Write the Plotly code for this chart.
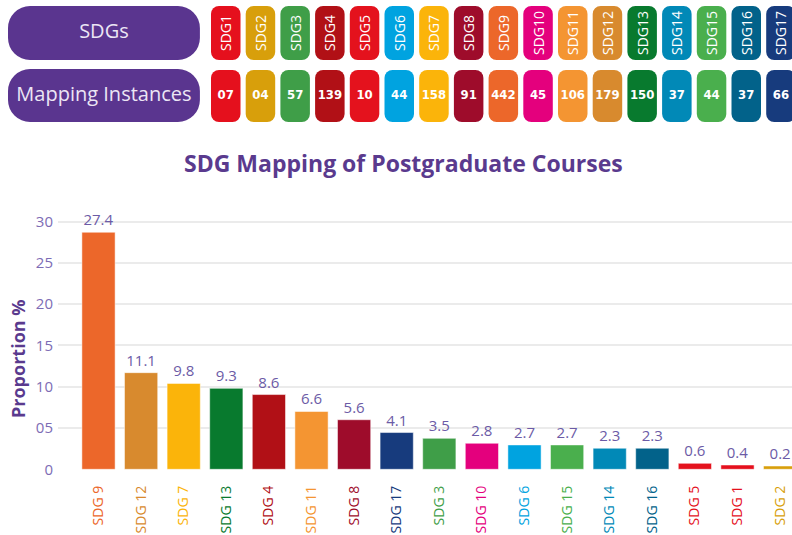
import plotly.graph_objects as go

# ---------------- data ----------------
header_sdgs = ["SDG1", "SDG2", "SDG3", "SDG4", "SDG5", "SDG6", "SDG7", "SDG8", "SDG9",
               "SDG10", "SDG11", "SDG12", "SDG13", "SDG14", "SDG15", "SDG16", "SDG17"]
header_instances = ["07", "04", "57", "139", "10", "44", "158", "91", "442",
                    "45", "106", "179", "150", "37", "44", "37", "66"]
header_row_names = ["SDGs", "Mapping Instances"]
sdg_colors = ["#e5101d", "#d89f0b", "#3f9e48", "#b11016", "#e4121d", "#00a3e0", "#fbb40a",
              "#9e0c2b", "#ec672a", "#e4007d", "#f49532", "#d88a2e", "#087a2e", "#0189b7",
              "#4aaf4d", "#02628a", "#173b7d"]

chart_categories = ["SDG 9", "SDG 12", "SDG 7", "SDG 13", "SDG 4", "SDG 11", "SDG 8", "SDG 17",
                    "SDG 3", "SDG 10", "SDG 6", "SDG 15", "SDG 14", "SDG 16", "SDG 5", "SDG 1", "SDG 2"]
chart_labels = ["27.4", "11.1", "9.8", "9.3", "8.6", "6.6", "5.6", "4.1",
                "3.5", "2.8", "2.7", "2.7", "2.3", "2.3", "0.6", "0.4", "0.2"]
bar_heights = [28.7, 11.7, 10.4, 9.8, 9.05, 7.0, 6.0, 4.45,
               3.75, 3.15, 2.95, 2.95, 2.55, 2.55, 0.72, 0.52, 0.4]
chart_sdg_number = [9, 12, 7, 13, 4, 11, 8, 17, 3, 10, 6, 15, 14, 16, 5, 1, 2]
y_tickvals = [0, 5, 10, 15, 20, 25, 30]
y_ticktext = ["0", "05", "10", "15", "20", "25", "30"]

# ---------------- style ----------------
W, H = 792, 535
PURPLE = "#5a358f"
TITLE_PURPLE = "#5a3a8e"
LABEL_PURPLE = "#6c5ba6"
TICK_PURPLE = "#7d6cb5"
GRID = "#ebebeb"

# header geometry (x2 units = one tile pitch, y2 units = pixels, reversed)
ROW1_TOP, ROW1_H = 6, 54
ROW2_TOP, ROW2_H = 70, 52
BOX_X, BOX_W = -2.51, 5.53

fig = go.Figure()

# ---------------- header (x2 / y2) ----------------
tile_x = list(range(1, len(header_sdgs) + 1))
fig.add_trace(go.Bar(
    x=tile_x, y=[ROW1_H] * 17, base=[ROW1_TOP] * 17, width=0.85,
    marker=dict(color=sdg_colors, cornerradius=8, line=dict(width=0)),
    text=header_sdgs, textposition="inside", insidetextanchor="middle",
    textangle=-90, constraintext="none",
    textfont=dict(family="Open Sans", size=14, color="white"),
    xaxis="x2", yaxis="y2", showlegend=False, hoverinfo="skip"))
fig.add_trace(go.Bar(
    x=tile_x, y=[ROW2_H] * 17, base=[ROW2_TOP] * 17, width=0.85,
    marker=dict(color=sdg_colors, cornerradius=8, line=dict(width=0)),
    xaxis="x2", yaxis="y2", showlegend=False, hoverinfo="skip"))
fig.add_trace(go.Scatter(
    x=tile_x, y=[ROW2_TOP + ROW2_H / 2] * 17, mode="text", text=header_instances,
    textposition="middle center",
    textfont=dict(family="Liberation Sans Narrow, DejaVu Sans Condensed, DejaVu Sans", size=13,
                  color="white", weight="bold"),
    xaxis="x2", yaxis="y2", showlegend=False, hoverinfo="skip", cliponaxis=False))
fig.add_trace(go.Bar(
    x=[BOX_X, BOX_X], y=[ROW1_H, ROW2_H + 1], base=[ROW1_TOP, ROW2_TOP - 1], width=BOX_W,
    marker=dict(color=PURPLE, cornerradius=22, line=dict(width=0)),
    xaxis="x2", yaxis="y2", showlegend=False, hoverinfo="skip"))
fig.add_trace(go.Scatter(
    x=[BOX_X, BOX_X], y=[ROW1_TOP + ROW1_H / 2, ROW2_TOP + ROW2_H / 2], mode="text",
    text=header_row_names, textposition="middle center",
    textfont=dict(family="Open Sans", size=20, color="#ece6f5"),
    xaxis="x2", yaxis="y2", showlegend=False, hoverinfo="skip", cliponaxis=False))

# ---------------- main bar chart ----------------
bar_colors = [sdg_colors[n - 1] for n in chart_sdg_number]
tick_text = [f'<span style="color:{c}">{t}</span>' for t, c in zip(chart_categories, bar_colors)]
xpos = list(range(len(chart_categories)))
fig.add_trace(go.Bar(
    x=xpos, y=bar_heights, width=0.78,
    marker=dict(color=bar_colors, line=dict(width=1, color="rgba(255,255,255,0.5)")),
    text=chart_labels, textposition="outside", cliponaxis=False,
    textfont=dict(family="Open Sans", size=15, color=LABEL_PURPLE),
    showlegend=False, hoverinfo="skip"))

plot_top_px, plot_bot_px = 185, 470
zero_px, px_per_unit = 469.3, 8.26
y_lo = -(plot_bot_px - zero_px) / px_per_unit
y_hi = (zero_px - plot_top_px) / px_per_unit

left_px = 58
cat_center0, cat_step = 98.5, 42.6
x_lo = -(cat_center0 - left_px) / cat_step
x_hi = (W - cat_center0) / cat_step

fig.update_layout(
    width=W, height=H,
    margin=dict(l=0, r=0, t=0, b=0, pad=0, autoexpand=False),
    paper_bgcolor="white", plot_bgcolor="white",
    barmode="overlay",
    font=dict(family="Open Sans", color=TICK_PURPLE),
    xaxis=dict(domain=[left_px / W, 1], range=[x_lo, x_hi], automargin=False,
               tickmode="array", tickvals=xpos, ticktext=tick_text,
               tickangle=-90, tickfont=dict(size=14, family="Open Sans"),
               ticklabelstandoff=12,
               showgrid=False, zeroline=False, showline=False, ticks=""),
    yaxis=dict(domain=[1 - plot_bot_px / H, 1 - plot_top_px / H], range=[y_lo, y_hi],
               automargin=False,
               tickmode="array", tickvals=y_tickvals, ticktext=y_ticktext,
               tickfont=dict(size=15, color=TICK_PURPLE, family="Open Sans"),
               showgrid=True, gridcolor=GRID, gridwidth=2,
               zeroline=False, showline=False, ticks="", ticklabelstandoff=4),
    xaxis2=dict(domain=[0, 1], range=[-(225.75 / 34.7) + 1, 1 + (W - 225.75) / 34.7],
                anchor="y2", visible=False, fixedrange=True, automargin=False),
    yaxis2=dict(domain=[1 - 130 / H, 1], range=[130, 0],
                anchor="x2", visible=False, fixedrange=True, automargin=False),
    annotations=[
        dict(text="<b>SDG Mapping of Postgraduate Courses</b>", x=403.5 / W, y=1 - 162.5 / H,
             xref="paper", yref="paper", showarrow=False, xanchor="center", yanchor="middle",
             font=dict(size=23, color=TITLE_PURPLE, family="Open Sans")),
        dict(text="<b>Proportion %</b>", x=18 / W, y=1 - 359 / H, textangle=-90,
             xref="paper", yref="paper", showarrow=False, xanchor="center", yanchor="middle",
             font=dict(size=18, color=TITLE_PURPLE, family="Open Sans")),
    ],
)

fig.write_html("out.html", config={"displayModeBar": False},
               post_script="document.body.style.margin='0';document.body.style.overflow='hidden';")
